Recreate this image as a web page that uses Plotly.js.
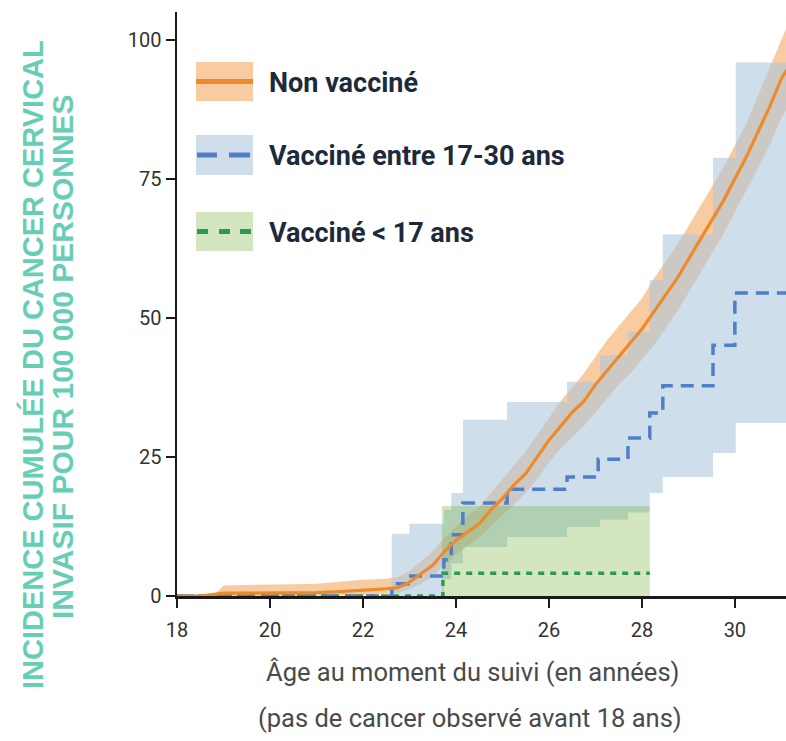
<!DOCTYPE html>
<html>
<head>
<meta charset="utf-8">
<script src="https://cdn.plot.ly/plotly-3.0.1.min.js"></script>
<style>
html,body{margin:0;padding:0;background:#fff;}
#chart{width:786px;height:741px;}
</style>
</head>
<body>
<div id="chart"></div>
<script>
// ---------------- DATA ----------------
// Non vaccinated: cumulative incidence and 95% CI
const unvacX   = [18, 18.5, 18.8, 19, 19.5, 20, 20.5, 21, 21.5, 22, 22.5, 22.75, 23, 23.25, 23.5, 23.75, 24, 24.25, 24.5, 24.75, 25, 25.25, 25.5, 25.75, 26, 26.25, 26.5, 26.75, 27, 27.25, 27.5, 27.75, 28, 28.25, 28.5, 28.75, 29, 29.25, 29.5, 29.75, 30, 30.25, 30.5, 30.75, 31, 31.15];
const unvacY   = [0, 0, 0.3, 0.5, 0.5, 0.5, 0.6, 0.6, 0.8, 1.0, 1.3, 1.5, 2.5, 4, 5.5, 8, 10, 11.5, 13, 15.5, 17.5, 20, 22, 25, 28, 30.5, 33, 35, 38, 40.5, 43, 45.5, 48, 51, 54, 57, 60.5, 64, 67.5, 71, 75, 79, 83.5, 88, 93, 95];
const unvacUp  = [0, 0, 0.2, 1.9, 2.0, 2.0, 2.1, 2.2, 2.6, 2.9, 3.1, 3.4, 4.5, 6.2, 8, 10.5, 12.5, 14.5, 16, 18.5, 21, 23.5, 26, 29, 32, 35, 37.5, 40, 43, 46, 48.5, 51, 53.5, 57, 60, 63, 66.5, 70, 73.5, 77, 81, 85, 90, 95, 100, 103];
const unvacLo  = [0, 0, 0, 0, 0, 0, 0, 0.1, 0.1, 0.2, 0.4, 0.6, 1.2, 2.2, 3.5, 5.5, 7.5, 9, 10.5, 12.5, 14.5, 16.5, 18.5, 21, 24, 26.5, 28.5, 30.5, 33, 35.5, 38, 40, 42.5, 45, 48, 51, 54.5, 58, 61.5, 65, 69, 73, 77, 81, 86, 88];

// Vaccinated between 17 and 30 years (step function)
const vac1730X  = [18, 22.62, 22.97, 23.74, 23.9, 24.15, 25.1, 26.39, 27.06, 27.7, 28.17, 28.45, 29.53, 30.0, 31.3];
const vac1730Y  = [0, 2.2, 3.6, 6.5, 11, 16.7, 19.2, 21.4, 24.6, 28.4, 32.9, 37.8, 45.1, 54.5, 54.5];
const vac1730BandX = [22.62, 23.0, 23.74, 23.9, 24.15, 25.1, 26.39, 27.1, 27.7, 28.17, 28.45, 29.53, 30.02, 31.3];
const vac1730Up    = [11.2, 13, 15.5, 18.5, 31.7, 34.9, 38.5, 43.3, 47.5, 56.8, 65, 78.8, 95.9, 95.9];
const vac1730Lo    = [0, 0, 3, 5.9, 8.8, 10.6, 12.4, 13.7, 15, 18.5, 21.4, 25.7, 31.1, 31.1];

// Vaccinated before 17 years
const vac17X  = [18, 23.72, 28.17];
const vac17Y  = [0, 4.1, 4.1];
const vac17BandX = [23.7, 28.17];
const vac17Up    = [16.2, 16.2];
const vac17Lo    = [0, 0];

// Axis ticks and texts
const xTicks = [18, 20, 22, 24, 26, 28, 30];
const yTicks = [0, 25, 50, 75, 100];
const legendLabels = ["Non vaccin\u00e9", "Vaccin\u00e9 entre 17-30 ans", "Vaccin\u00e9 < 17 ans"];
const yTitleLines = ["INCIDENCE CUMUL\u00c9E DU CANCER CERVICAL", "INVASIF POUR 100 000 PERSONNES"];
const xTitleLines = ["\u00c2ge au moment du suivi (en ann\u00e9es)", "(pas de cancer observ\u00e9 avant 18 ans)"];

// ---------------- STYLE ----------------
const W = 786, H = 741;
const M = {l: 177, r: 0, t: 12, b: 145};
const plotW = W - M.l - M.r, plotH = H - M.t - M.b;
const px = x => (x - M.l) / plotW;
const py = y => (H - M.b - y) / plotH;

const NARROW = "Roboto, 'Liberation Sans', sans-serif";
const ORANGE = '#ec8a2c', ORANGE_BAND = '#f8cba0';
const BLUE = '#4f7fcb', BLUE_BAND = 'rgba(175,200,222,0.6)';
const GREEN = '#2c9a50', GREEN_BAND = 'rgba(108,172,42,0.3)';

const traces = [
  {x: unvacX, y: unvacLo, mode: 'lines', line: {width: 0, color: ORANGE}, showlegend: false, hoverinfo: 'skip'},
  {x: unvacX, y: unvacUp, mode: 'lines', line: {width: 0, color: ORANGE}, fill: 'tonexty', fillcolor: ORANGE_BAND, showlegend: false, hoverinfo: 'skip'},
  {x: vac1730BandX, y: vac1730Lo, mode: 'lines', line: {width: 0, shape: 'hv', color: BLUE}, showlegend: false, hoverinfo: 'skip'},
  {x: vac1730BandX, y: vac1730Up, mode: 'lines', line: {width: 0, shape: 'hv', color: BLUE}, fill: 'tonexty', fillcolor: BLUE_BAND, showlegend: false, hoverinfo: 'skip'},
  {x: vac17BandX, y: vac17Lo, mode: 'lines', line: {width: 0, shape: 'hv', color: GREEN}, showlegend: false, hoverinfo: 'skip'},
  {x: vac17BandX, y: vac17Up, mode: 'lines', line: {width: 0, shape: 'hv', color: GREEN}, fill: 'tonexty', fillcolor: GREEN_BAND, showlegend: false, hoverinfo: 'skip'},
  {x: vac17X, y: vac17Y, mode: 'lines', name: legendLabels[2], line: {width: 3.5, shape: 'hv', color: GREEN, dash: '6px,6px'}, showlegend: false},
  {x: vac1730X, y: vac1730Y, mode: 'lines', name: legendLabels[1], line: {width: 3.5, shape: 'hv', color: BLUE, dash: '13px,8px'}, showlegend: false},
  {x: unvacX, y: unvacY, mode: 'lines', name: legendLabels[0], line: {width: 3.2, color: ORANGE}, showlegend: false}
];

// legend swatches (pixel geometry)
const shapes = [];
const annotations = [];
const swatches = [
  {top: 62, bot: 101, fill: ORANGE_BAND, color: ORANGE, segs: [[196, 253]]},
  {top: 135, bot: 175, fill: '#cfdeea', color: BLUE, segs: [[197, 217], [229, 250]]},
  {top: 212, bot: 251, fill: '#d3e6bf', color: GREEN, segs: [[197, 208], [219, 230], [240, 251]]}
];
swatches.forEach((s, i) => {
  shapes.push({type: 'rect', xref: 'paper', yref: 'paper', x0: px(196), x1: px(253), y0: py(s.bot), y1: py(s.top),
    fillcolor: s.fill, line: {width: 0}, layer: 'above'});
  const mid = (s.top + s.bot) / 2;
  s.segs.forEach(g => shapes.push({type: 'line', xref: 'paper', yref: 'paper', x0: px(g[0]), x1: px(g[1]), y0: py(mid), y1: py(mid),
    line: {color: s.color, width: 5}, layer: 'above'}));
  annotations.push({xref: 'paper', yref: 'paper', x: px(267), y: py(mid + 1), xanchor: 'left', yanchor: 'middle', showarrow: false,
    text: '<b>' + legendLabels[i].replace('<', '&lt;') + '</b>', font: {family: NARROW, size: 27, color: '#1d2a3b'}});
});

// y-axis title (two rotated lines)
annotations.push({xref: 'paper', yref: 'paper', x: px(33), y: py(365), xanchor: 'center', yanchor: 'middle', showarrow: false, textangle: -90,
  text: '<b>' + yTitleLines[0] + '</b>', font: {family: "'Liberation Sans', Arial, sans-serif", size: 29, color: '#68cdb5'}});
annotations.push({xref: 'paper', yref: 'paper', x: px(62), y: py(357), xanchor: 'center', yanchor: 'middle', showarrow: false, textangle: -90,
  text: '<b>' + yTitleLines[1] + '</b>', font: {family: "'Liberation Sans', Arial, sans-serif", size: 30, color: '#68cdb5'}});
// x-axis title (two lines)
annotations.push({xref: 'paper', yref: 'paper', x: px(472), y: py(672), xanchor: 'center', yanchor: 'middle', showarrow: false,
  text: xTitleLines[0], font: {family: NARROW, size: 25.5, color: '#4a4a4a'}});
annotations.push({xref: 'paper', yref: 'paper', x: px(470), y: py(718), xanchor: 'center', yanchor: 'middle', showarrow: false,
  text: xTitleLines[1], font: {family: NARROW, size: 25.5, color: '#4a4a4a'}});

const axisCommon = {
  showgrid: false, zeroline: false, showline: true, linecolor: '#1a1a1a', linewidth: 2.5,
  ticks: 'outside', ticklen: 9, tickwidth: 2, tickcolor: '#1a1a1a',
  tickfont: {family: NARROW, size: 20, color: '#333'}, fixedrange: true
};

const layout = {
  width: W, height: H, margin: M,
  paper_bgcolor: '#fff', plot_bgcolor: '#fff',
  showlegend: false,
  xaxis: Object.assign({}, axisCommon, {range: [18, 31.1], tickmode: 'array', tickvals: xTicks, ticktext: xTicks.map(String), ticklabelstandoff: 5}),
  yaxis: Object.assign({}, axisCommon, {range: [0, 105], tickmode: 'array', tickvals: yTicks, ticktext: yTicks.map(String), ticklabelstandoff: 0}),
  shapes: shapes,
  annotations: annotations
};

Plotly.newPlot('chart', traces, layout, {staticPlot: true, displayModeBar: false});
</script>
</body>
</html>
